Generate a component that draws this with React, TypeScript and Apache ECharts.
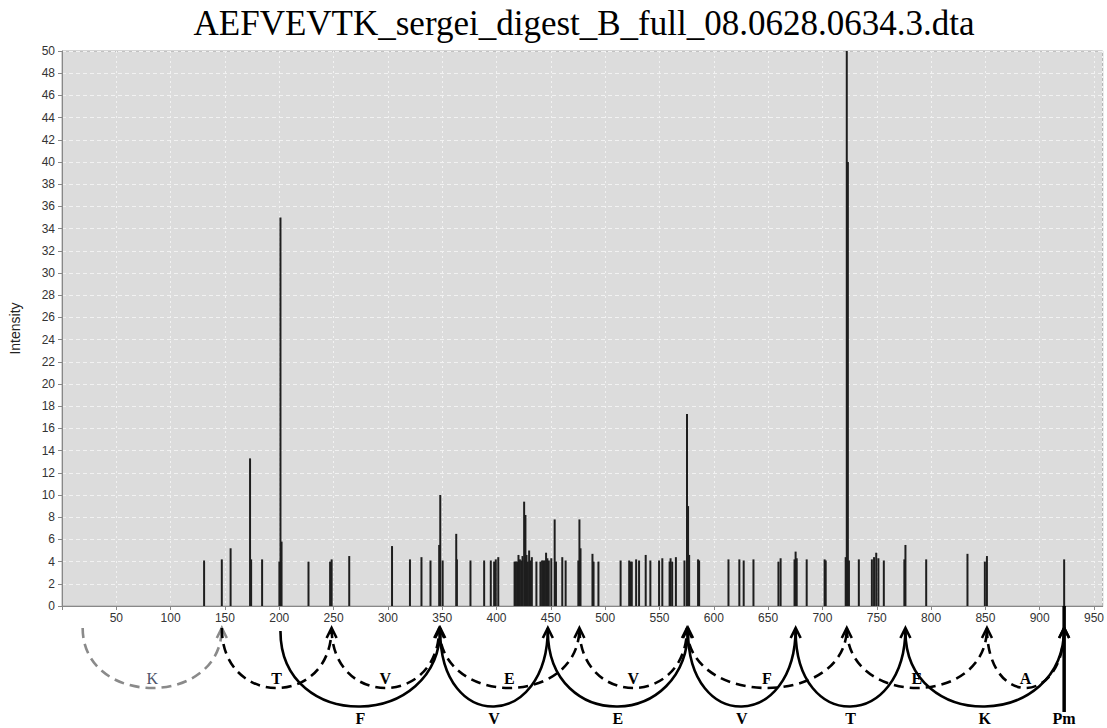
import React, { useEffect, useRef } from "react";
import * as echarts from "echarts";

const TITLE = "AEFVEVTK_sergei_digest_B_full_08.0628.0634.3.dta";

// Peak list (m/z, intensity)
const peakMz = [
  130.8, 147.1, 155.2, 173.1, 174.1, 184.2, 200.1, 201.1, 202.1, 226.9,
  246.8, 248.2, 264.4, 303.8, 320.3, 330.9, 339.2, 347.2, 348.2, 350.4,
  362.9, 363.5, 376.0, 388.6, 394.7, 397.8, 399.3, 401.6, 416.6, 417.8,
  419.0, 420.2, 421.5, 422.7, 423.9, 425.4, 426.6, 427.6, 428.8, 430.0,
  431.2, 432.5, 436.7, 440.4, 441.9, 443.1, 444.4, 445.6, 446.8, 448.1,
  450.4, 453.5, 454.7, 460.5, 463.6, 475.3, 476.3, 477.3, 488.3, 489.3,
  493.8, 514.2, 522.1, 523.3, 524.5, 528.5, 531.2, 537.3, 541.6, 549.6,
  552.6, 559.3, 560.2, 561.7, 565.1, 573.0, 575.3, 576.3, 577.3, 585.5,
  586.5, 613.5, 623.5, 627.5, 636.5, 659.5, 661.5, 674.3, 675.3, 676.3,
  685.5, 702.0, 703.0, 721.4, 722.4, 723.4, 724.4, 733.5, 745.5, 747.5,
  749.5, 751.5, 756.5, 775.4, 776.4, 795.5, 833.5, 849.5, 851.4, 922.5,
];
const peakIntensity = [
  4.1, 4.2, 5.2, 13.3, 4.2, 4.2, 4.0, 35.0, 5.8, 4.0,
  4.0, 4.2, 4.5, 5.4, 4.2, 4.4, 4.1, 5.5, 10.0, 4.1,
  6.5, 4.2, 4.1, 4.1, 4.1, 4.0, 4.2, 4.4, 4.0, 4.0,
  4.0, 4.6, 4.2, 4.1, 4.5, 9.4, 8.2, 4.6, 4.0, 5.0,
  4.1, 4.4, 4.0, 4.0, 4.1, 4.1, 4.1, 4.8, 4.3, 4.1,
  4.3, 7.8, 4.0, 4.4, 4.1, 4.1, 7.8, 5.2, 4.7, 4.0,
  4.0, 4.1, 4.1, 4.0, 4.0, 4.2, 4.1, 4.6, 4.1, 4.1,
  4.3, 4.0, 4.3, 4.0, 4.4, 4.1, 17.3, 9.0, 4.6, 4.2,
  4.1, 4.2, 4.2, 4.1, 4.2, 4.0, 4.3, 4.2, 4.9, 4.3,
  4.2, 4.2, 4.1, 4.4, 52.0, 40.0, 4.1, 4.2, 4.2, 4.4,
  4.8, 4.3, 4.1, 4.2, 5.5, 4.2, 4.7, 4.0, 4.5, 4.2,
];

// Fragment ladders (m/z of consecutive ions)
const yIonFrom = [19.02, 147.11, 248.16, 347.22, 476.27, 575.33, 722.4, 851.44];
const yIonTo = [147.11, 248.16, 347.22, 476.27, 575.33, 722.4, 851.44, 922.49];
const yIonLabels = ["K", "T", "V", "E", "V", "F", "E", "A"];
const bIonFrom = [201.09, 348.16, 447.23, 576.27, 675.34, 776.39];
const bIonTo = [348.16, 447.23, 576.27, 675.34, 776.39, 922.49];
const bIonLabels = ["F", "V", "E", "V", "T", "K"];
const precursorMz = 922.49;
const precursorLabel = "Pm";

const X_MIN = 0;
const X_MAX = 958;
const X_INTERVAL = 50;
const Y_MIN = 0;
const Y_MAX = 50;
const Y_INTERVAL = 2;

type Ann = { from: number; to: number; kind: "g" | "y" | "b" | "pm"; label: string };

export default function App() {
  const ref = useRef<HTMLDivElement>(null);

  useEffect(() => {
    document.body.style.margin = "0";
    if (!ref.current) return;
    const chart = echarts.init(ref.current, undefined, { renderer: "svg" });

    const anns: Ann[] = [];
    yIonFrom.forEach((f, i) =>
      anns.push({ from: f, to: yIonTo[i], kind: i === 0 ? "g" : "y", label: yIonLabels[i] })
    );
    bIonFrom.forEach((f, i) =>
      anns.push({ from: f, to: bIonTo[i], kind: "b", label: bIonLabels[i] })
    );
    anns.push({ from: precursorMz, to: precursorMz, kind: "pm", label: precursorLabel });

    const serif = '"Liberation Serif", "Times New Roman", serif';
    const sans = '"Liberation Sans", Arial, sans-serif';
    const LOWER_LABEL_DY = 112;

    const renderItem = (params: any, api: any) => {
      const a = anns[params.dataIndex];
      const p1 = api.coord([api.value(0), 0]);
      const p2 = api.coord([api.value(1), 0]);
      const axisY = p1[1];
      const x1 = p1[0];
      const x2 = p2[0];
      if (a.kind === "pm") {
        return {
          type: "group",
          children: [
            {
              type: "line",
              shape: { x1: x1, y1: axisY, x2: x1, y2: axisY + 106 },
              style: { stroke: "#000", lineWidth: 3.5 },
            },
            {
              type: "text",
              x: x1,
              y: axisY + LOWER_LABEL_DY,
              style: {
                text: a.label,
                fill: "#000",
                fontFamily: serif,
                fontWeight: "bold",
                fontSize: 16,
                align: "center",
                verticalAlign: "middle",
              },
            },
          ],
        };
      }
      const solid = a.kind === "b";
      const top = axisY + (solid ? 25 : 22);
      const tipY = axisY + 22;
      const depth = solid ? 102 - 25 : 82 - 22;
      const color = a.kind === "g" ? "#8a8a8a" : "#000";
      const k = (4 / 3) * depth;
      const lineStyle: any = {
        stroke: color,
        lineWidth: 2.6,
        fill: null,
      };
      if (!solid) lineStyle.lineDash = [10, 6];
      return {
        type: "group",
        children: [
          {
            type: "bezierCurve",
            shape: {
              x1: x1,
              y1: top,
              x2: x2,
              y2: tipY,
              cpx1: x1,
              cpy1: top + k,
              cpx2: x2,
              cpy2: tipY + k,
            },
            style: lineStyle,
          },
          {
            type: "polyline",
            shape: {
              points: [
                [x2 - 5, tipY + 10],
                [x2, tipY],
                [x2 + 5, tipY + 10],
              ],
            },
            style: { stroke: color, lineWidth: 2.6, fill: null },
          },
          {
            type: "text",
            x: (x1 + x2) / 2,
            y: axisY + (solid ? LOWER_LABEL_DY : 72),
            style: {
              text: a.label,
              fill: a.kind === "g" ? "#4f566a" : "#000",
              fontFamily: serif,
              fontWeight: a.kind === "g" ? "normal" : "bold",
              fontSize: 16,
              align: "center",
              verticalAlign: "middle",
            },
          },
        ],
      };
    };

    chart.setOption({
      animation: false,
      graphic: [
        {
          type: "text",
          x: 584,
          y: 23,
          style: {
            text: TITLE,
            fill: "#000",
            fontFamily: serif,
            fontSize: 35,
            align: "center",
            verticalAlign: "middle",
          },
        },
      ],
      grid: {
        left: 57,
        right: 3,
        top: 51,
        bottom: 122,
        show: true,
        backgroundColor: "#dcdcdc",
        borderColor: "#a8a8a8",
        borderWidth: 1,
      },
      xAxis: {
        type: "value",
        min: X_MIN,
        max: X_MAX,
        interval: X_INTERVAL,
        axisLine: { show: true, onZero: false, lineStyle: { color: "#888", width: 1 } },
        axisTick: { show: true, length: 4, lineStyle: { color: "#888" } },
        axisLabel: {
          color: "#333",
          fontSize: 12,
          fontFamily: sans,
          margin: 6,
          showMaxLabel: false,
          formatter: (v: number) => (v === 0 || v % 50 !== 0 ? "" : String(v)),
        },
        splitLine: { show: true, lineStyle: { color: "#f2f2f2", type: [2, 3], width: 1 } },
      },
      yAxis: {
        type: "value",
        min: Y_MIN,
        max: Y_MAX,
        interval: Y_INTERVAL,
        name: "Intensity",
        nameLocation: "middle",
        nameGap: 40,
        nameTextStyle: { color: "#222", fontSize: 14, fontFamily: sans },
        axisLine: { show: true, lineStyle: { color: "#888", width: 1 } },
        axisTick: { show: true, length: 4, lineStyle: { color: "#888" } },
        axisLabel: { color: "#333", fontSize: 12, fontFamily: sans, margin: 7 },
        splitLine: { show: true, lineStyle: { color: "#f2f2f2", type: [4, 3], width: 1 } },
      },
      series: [
        {
          type: "bar",
          data: peakMz.map((m, i) => [m, peakIntensity[i]]),
          barWidth: 2,
          itemStyle: { color: "#1e1e1e" },
          silent: true,
        },
        {
          type: "custom",
          clip: false,
          silent: true,
          encode: { x: [0, 1], y: 2 },
          data: anns.map((a) => [a.from, a.to, 0]),
          renderItem: renderItem,
          z: 5,
        },
      ],
    });

    return () => chart.dispose();
  }, []);

  return <div ref={ref} style={{ width: 1107, height: 728 }} />;
}
